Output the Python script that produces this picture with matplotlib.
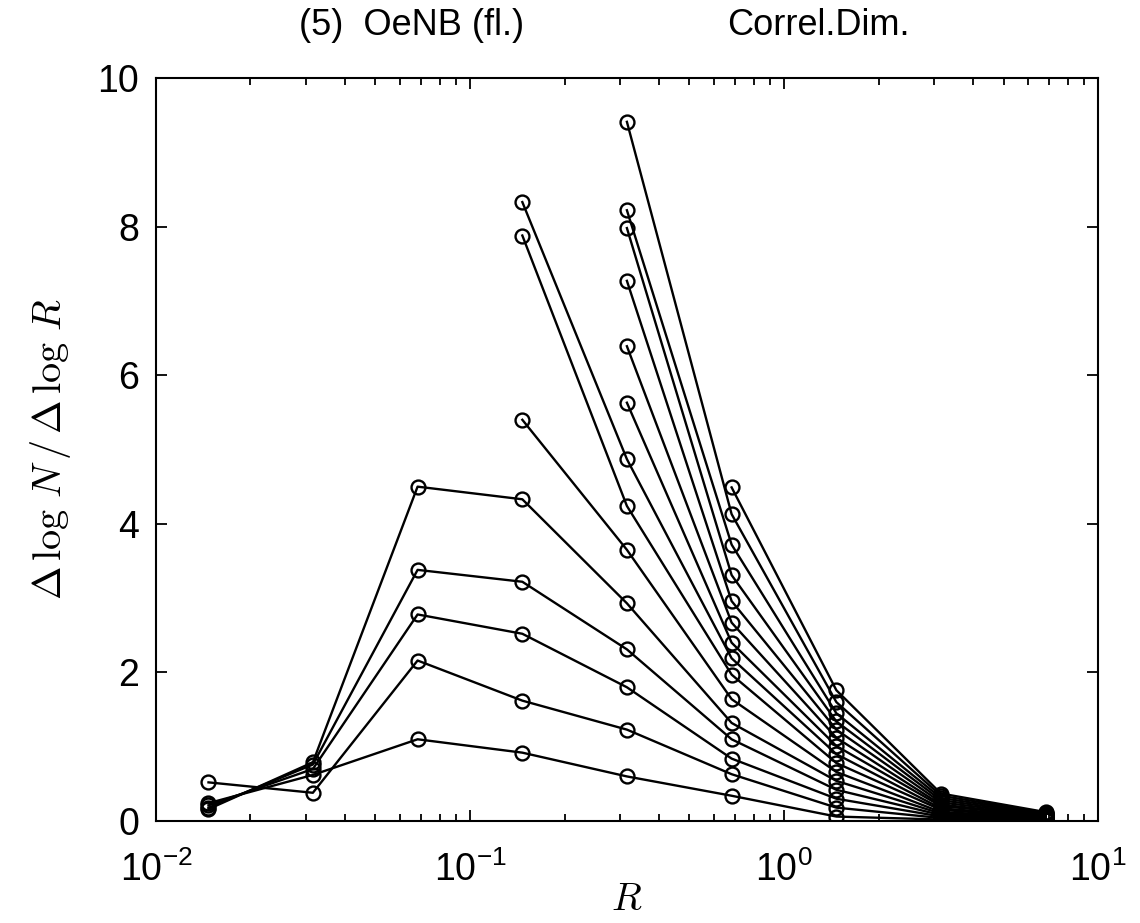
import matplotlib
matplotlib.use("Agg")
import matplotlib.pyplot as plt

plt.rcParams['font.family'] = ['Liberation Sans', 'DejaVu Sans']
plt.rcParams['mathtext.fontset'] = 'cm'

# radius values (columns)
R = [0.0147, 0.0316, 0.0681, 0.1468, 0.316, 0.681, 1.468, 3.16, 6.81]

# each curve: index of first column, then slope values
start_idx = [0, 0, 0, 0, 0, 3, 3, 3, 4, 4, 4, 4, 4, 4, 5]
slopes = [
    [0.24, 0.62, 1.10, 0.92, 0.60, 0.34, 0.06, 0.02, 0.01],
    [0.52, 0.38, 2.16, 1.62, 1.23, 0.63, 0.18, 0.04, 0.02],
    [0.21, 0.70, 2.78, 2.52, 1.80, 0.84, 0.30, 0.06, 0.03],
    [0.18, 0.76, 3.38, 3.22, 2.31, 1.10, 0.42, 0.08, 0.03],
    [0.16, 0.79, 4.50, 4.33, 2.93, 1.32, 0.54, 0.10, 0.04],
    [5.40, 3.65, 1.64, 0.66, 0.12, 0.05],
    [7.88, 4.24, 1.97, 0.78, 0.15, 0.05],
    [8.33, 4.87, 2.19, 0.90, 0.17, 0.06],
    [5.63, 2.40, 1.01, 0.20, 0.07],
    [6.39, 2.67, 1.12, 0.22, 0.07],
    [7.27, 2.96, 1.23, 0.25, 0.08],
    [7.98, 3.31, 1.34, 0.28, 0.09],
    [8.22, 3.72, 1.45, 0.31, 0.10],
    [9.41, 4.13, 1.60, 0.34, 0.11],
    [4.49, 1.76, 0.37, 0.12],
]

fig = plt.figure(figsize=(11.4, 9.23), dpi=100)
ax = fig.add_axes([0.1368, 0.1105, 0.8264, 0.805])

for s, vals in zip(start_idx, slopes):
    ax.plot(R[s:s + len(vals)], vals, '-o', color='black', lw=1.7,
            markersize=10, markerfacecolor='none', markeredgewidth=1.7)

ax.set_xscale('log')
ax.set_xlim(0.01, 10)
ax.set_ylim(0, 10)
ax.set_yticks([0, 2, 4, 6, 8, 10])

ax.tick_params(which='both', direction='in', top=True, right=True, width=1.3)
ax.tick_params(which='major', length=8, labelsize=27)
ax.tick_params(axis='x', which='major', pad=22)
ax.tick_params(axis='y', which='major', pad=12)
ax.tick_params(which='minor', length=5)
for sp in ax.spines.values():
    sp.set_linewidth(1.5)

ax.set_xlabel('$R$', fontsize=28, labelpad=-5)
ax.set_ylabel(r'$\Delta\,\log\,N\,/\,\Delta\,\log\,R$', fontsize=29, labelpad=18)

fig.text(0.361, 0.972, '(5)  OeNB (fl.)', fontsize=26, ha='center', va='center')
fig.text(0.718, 0.972, 'Correl.Dim.', fontsize=26, ha='center', va='center')

fig.savefig('out.png', dpi=100)
